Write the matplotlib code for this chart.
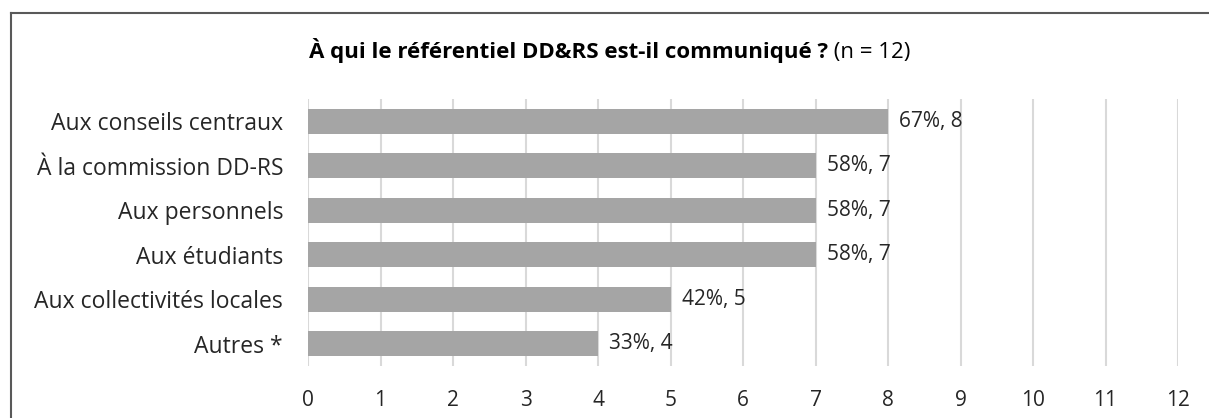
import matplotlib.pyplot as plt
from matplotlib.lines import Line2D

# data
categories = ["Aux conseils centraux", "À la commission DD-RS", "Aux personnels",
              "Aux étudiants", "Aux collectivités locales", "Autres *"]
counts = [8, 7, 7, 7, 5, 4]
percents = [67, 58, 58, 58, 42, 33]
x_ticks = list(range(0, 13))

plt.rcParams['font.family'] = ['Open Sans', 'DejaVu Sans']

fig = plt.figure(figsize=(12.09, 4.18), dpi=100)
ax = fig.add_axes([0.2548, 0.1244, 0.7196, 0.6386])

y = list(range(len(categories)))
ax.barh(y, counts, height=0.57, color='#a5a5a5', zorder=3)

for yi, c, p in zip(y, counts, percents):
    ax.annotate(f"{p}%, {c}", xy=(c, yi), xytext=(8, 0), textcoords='offset points',
                va='center', ha='left', fontsize=15, color='#262626')

ax.set_xlim(0, 12)
ax.set_ylim(len(categories) - 0.5, -0.5)
ax.set_xticks(x_ticks)
ax.set_yticks(y)
ax.set_yticklabels(categories)
ax.tick_params(axis='both', length=0, labelcolor='#262626')
ax.tick_params(axis='y', pad=18, labelsize=16.5)
ax.tick_params(axis='x', pad=17, labelsize=15)
ax.grid(axis='x', color='#d9d9d9', linewidth=1.5, zorder=0)
for s in ax.spines.values():
    s.set_visible(False)

# title: bold part + normal part
t1 = fig.text(0.2556, 0.862, "À qui le référentiel DD&RS est-il communiqué ?",
              fontsize=16, fontweight='bold', ha='left', va='baseline', color='black')
ax.annotate(" (n = 12)", xy=(1, 0), xycoords=t1, va='bottom', ha='left',
            fontsize=16, color='black', annotation_clip=False)

# chart border (left + top visible)
fig.add_artist(Line2D([0.0087, 0.0087], [0, 0.969], transform=fig.transFigure,
                      color='#595959', linewidth=1.5))
fig.add_artist(Line2D([0.0087, 1.0], [0.969, 0.969], transform=fig.transFigure,
                      color='#595959', linewidth=1.5))

fig.savefig("out.png", dpi=100)
